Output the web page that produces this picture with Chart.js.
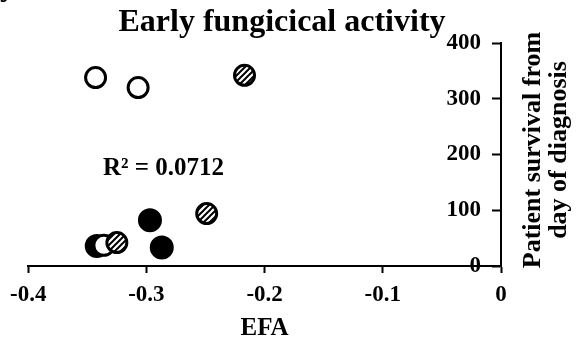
<!DOCTYPE html>
<html><head><meta charset="utf-8">
<script src="https://cdn.jsdelivr.net/npm/chart.js@4/dist/chart.umd.min.js"></script>
<style>html,body{margin:0;padding:0;background:#fff}canvas{display:block}</style>
</head><body>
<canvas id="c" width="577" height="339"></canvas>
<script>
const chartTitle = 'Early fungicical activity';
const xAxisTitle = 'EFA';
const yAxisTitleLines = ['Patient survival from', 'day of diagnosis'];
const r2Label = 'R² = 0.0712';
const hatchedX = [-0.325, -0.249, -0.217];
const hatchedY = [42, 94, 342];
const openX = [-0.343, -0.307, -0.336];
const openY = [338, 320, 37];
const filledX = [-0.342, -0.297, -0.287];
const filledY = [36, 82, 33];
const xTicks = [-0.4, -0.3, -0.2, -0.1, 0];
const yTicks = [0, 100, 200, 300, 400];

const SERIF = '"Liberation Serif", "Times New Roman", serif';

function makeHatch() {
  const p = document.createElement('canvas');
  p.width = 6; p.height = 6;
  const g = p.getContext('2d');
  g.fillStyle = '#fff'; g.fillRect(0, 0, 6, 6);
  g.strokeStyle = '#000'; g.lineWidth = 2;
  g.beginPath();
  g.moveTo(-1, 7); g.lineTo(7, -1);
  g.moveTo(-4, 4); g.lineTo(4, -4);
  g.moveTo(2, 10); g.lineTo(10, 2);
  g.stroke();
  return g.createPattern(p, 'repeat');
}
const hatch = makeHatch();

const pts = (xs, ys) => xs.map((x, i) => ({x, y: ys[i]}));

const labelShift = {
  id: 'labelShift',
  beforeDraw(chart) {
    const s = chart.scales.y;
    const items = s.getLabelItems();
    if (!items._shifted) {
      items.forEach(it => { it.options.translation[0] -= 20; });
      items._shifted = true;
    }
  }
};

const textPlugin = {
  id: 'texts',
  afterDraw(chart) {
    const ctx = chart.ctx;
    const area = chart.chartArea;
    ctx.save();
    ctx.fillStyle = '#000';
    ctx.font = 'bold 32px ' + SERIF;
    ctx.textAlign = 'center';
    ctx.textBaseline = 'alphabetic';
    ctx.fillText(chartTitle, 282, 31);
    ctx.textAlign = 'left';
    ctx.fillText('y', 0, -5);
    ctx.font = 'bold 25px ' + SERIF;
    ctx.textAlign = 'center';
    ctx.fillText(xAxisTitle, (area.left + area.right) / 2, 335);
    ctx.textAlign = 'left';
    ctx.fillText(r2Label, 103, 175);
    ctx.font = 'bold 26px ' + SERIF;
    ctx.textAlign = 'center';
    ctx.translate(540, 150);
    ctx.rotate(-Math.PI / 2);
    ctx.fillText(yAxisTitleLines[0], 0, 0);
    ctx.fillText(yAxisTitleLines[1], 0, 26);
    ctx.restore();
  }
};

new Chart(document.getElementById('c'), {
  type: 'scatter',
  data: {
    datasets: [
      {data: pts(hatchedX, hatchedY), backgroundColor: hatch, borderColor: '#000', borderWidth: 3, pointRadius: 10, pointHoverRadius: 10},
      {data: pts(openX, openY), backgroundColor: '#fff', borderColor: '#000', borderWidth: 3, pointRadius: 10, pointHoverRadius: 10},
      {data: pts(filledX, filledY), backgroundColor: '#000', borderColor: '#000', borderWidth: 2, pointRadius: 11, pointHoverRadius: 11}
    ]
  },
  options: {
    responsive: false,
    animation: false,
    devicePixelRatio: 1,
    layout: {autoPadding: false, padding: {left: 20, right: 76, top: 43, bottom: 73}},
    plugins: {legend: {display: false}, tooltip: {enabled: false}, title: {display: false}},
    scales: {
      x: {
        type: 'linear', position: {y: 0}, min: -0.4, max: 0,
        afterBuildTicks: s => { s.ticks = xTicks.map(v => ({value: v})); },
        ticks: {color: '#000', font: {family: SERIF, size: 23, weight: 'bold', lineHeight: 1.1}, padding: 10,
                callback: v => String(v)},
        grid: {drawOnChartArea: false, drawTicks: true, tickLength: 6, tickWidth: 2, tickColor: '#000'},
        border: {display: true, color: '#000', width: 2},
        title: {display: false}
      },
      y: {
        type: 'linear', position: {x: 0}, min: 0, max: 400,
        afterBuildTicks: s => { s.ticks = yTicks.map(v => ({value: v})); },
        ticks: {color: '#000', font: {family: SERIF, size: 23, weight: 'bold'}, padding: 12,
                callback: v => String(v)},
        grid: {drawOnChartArea: false, drawTicks: true, tickLength: 8, tickWidth: 2, tickColor: '#000'},
        border: {display: true, color: '#000', width: 2}
      }
    }
  },
  plugins: [labelShift, textPlugin]
});
</script>
</body></html>
